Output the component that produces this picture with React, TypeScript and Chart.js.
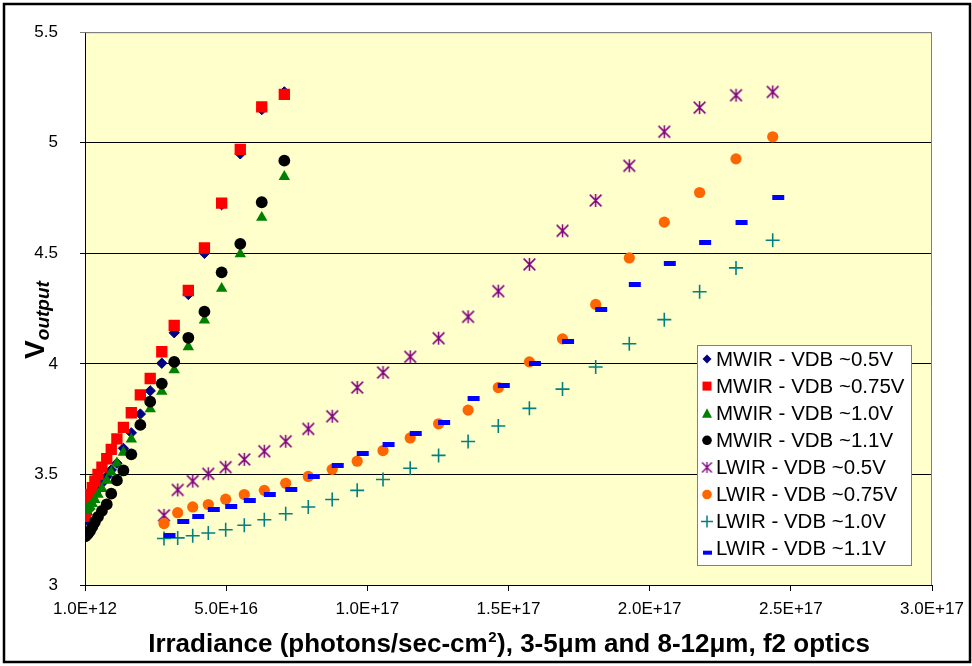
import React, { useEffect, useRef } from "react";
import { Chart, registerables } from "chart.js";

Chart.register(...registerables);

const FONT = "'Liberation Sans', Arial, sans-serif";

// Axis settings
const X_MIN = 1e12;
const X_MAX = 3e17;
const X_STEP = 5e16;
const Y_MIN = 3;
const Y_MAX = 5.5;
const Y_STEP = 0.5;

const seriesNames = [
  "MWIR - VDB ~0.5V",
  "MWIR - VDB ~0.75V",
  "MWIR - VDB ~1.0V",
  "MWIR - VDB ~1.1V",
  "LWIR - VDB ~0.5V",
  "LWIR - VDB ~0.75V",
  "LWIR - VDB ~1.0V",
  "LWIR - VDB ~1.1V",
];

// MWIR irradiance (photons/sec-cm2)
const mwirIrradiance = [
  7.06e16, 6.26e16, 5.5e16, 4.84e16, 4.23e16, 3.66e16, 3.16e16, 2.72e16,
  2.31e16, 1.96e16, 1.64e16, 1.36e16, 1.13e16, 9.3e15, 7.7e15, 6.0e15,
  4.6e15, 3.5e15, 2.6e15, 1.8e15, 1.2e15, 7e14, 3.5e14, 1e14,
];
const mwirVdb05 = [
  5.23, 5.15, 4.95, 4.72, 4.5, 4.314, 4.141, 4.003, 3.878, 3.773, 3.688, 3.618,
  3.551, 3.52, 3.49, 3.46, 3.43, 3.41, 3.385, 3.36, 3.34, 3.32, 3.305, 3.29,
];
const mwirVdb075 = [
  5.219, 5.162, 4.97, 4.727, 4.524, 4.332, 4.174, 4.055, 3.934, 3.86, 3.779,
  3.713, 3.661, 3.613, 3.571, 3.533, 3.5, 3.47, 3.44, 3.41, 3.385, 3.36, 3.335,
  3.31,
];
const mwirVdb10 = [
  4.847, 4.662, 4.497, 4.341, 4.197, 4.077, 3.972, 3.875, 3.796, 3.725, 3.659,
  3.6, 3.551, 3.51, 3.473, 3.436, 3.409, 3.386, 3.368, 3.355, 3.35, 3.345,
  3.34, 3.335,
];
const mwirVdb11 = [
  4.919, 4.731, 4.543, 4.414, 4.236, 4.118, 4.009, 3.911, 3.829, 3.724, 3.591,
  3.518, 3.473, 3.413, 3.365, 3.335, 3.308, 3.285, 3.263, 3.245, 3.235, 3.228,
  3.225, 3.22,
];

// LWIR irradiance (photons/sec-cm2)
const lwirIrradiance = [
  2.798e16, 3.283e16, 3.815e16, 4.367e16, 4.983e16, 5.642e16, 6.351e16,
  7.109e16, 7.909e16, 8.756e16, 9.641e16, 1.0555e17, 1.1518e17, 1.2524e17,
  1.3569e17, 1.4639e17, 1.574e17, 1.6913e17, 1.8088e17, 1.9279e17, 2.0518e17,
  2.1769e17, 2.3058e17, 2.4358e17,
];
const lwirVdb05 = [
  3.315, 3.43, 3.47, 3.503, 3.533, 3.568, 3.605, 3.65, 3.706, 3.763, 3.893,
  3.961, 4.032, 4.116, 4.213, 4.329, 4.45, 4.602, 4.739, 4.896, 5.05, 5.159,
  5.215, 5.23,
];
const lwirVdb075 = [
  3.278, 3.327, 3.353, 3.364, 3.388, 3.409, 3.428, 3.46, 3.491, 3.523, 3.56,
  3.608, 3.665, 3.729, 3.791, 3.893, 4.009, 4.113, 4.269, 4.479, 4.641, 4.775,
  4.927, 5.027,
];
const lwirVdb10 = [
  3.21, 3.213, 3.223, 3.235, 3.25, 3.27, 3.295, 3.322, 3.353, 3.387, 3.428,
  3.477, 3.528, 3.586, 3.649, 3.719, 3.799, 3.886, 3.986, 4.091, 4.2, 4.326,
  4.434, 4.559,
];
const lwirVdb11 = [
  3.225, 3.285, 3.308, 3.341, 3.357, 3.383, 3.411, 3.433, 3.49, 3.539, 3.593,
  3.636, 3.684, 3.736, 3.842, 3.901, 4.003, 4.102, 4.245, 4.359, 4.455, 4.548,
  4.641, 4.752,
];

const xTitleMain = "Irradiance (photons/sec-cm";
const xTitleSup = "2";
const xTitleRest = "), 3-5\u03bcm and 8-12\u03bcm, f2 optics";
const yTitleMain = "V";
const yTitleSub = "output";

const COLORS = ["#000080", "#FF0000", "#008000", "#000000", "#800080", "#FF6600", "#008080", "#0000FF"];

function makeAsterisk(size: number, lw: number, color: string) {
  const c = document.createElement("canvas");
  c.width = size;
  c.height = size;
  const g = c.getContext("2d")!;
  const m = size / 2;
  const r = size / 2 - 1;
  const d = r * 0.9;
  g.strokeStyle = color;
  g.lineWidth = lw;
  g.beginPath();
  g.moveTo(m, m - r);
  g.lineTo(m, m + r);
  g.moveTo(m - d, m - d);
  g.lineTo(m + d, m + d);
  g.moveTo(m + d, m - d);
  g.lineTo(m - d, m + d);
  g.stroke();
  return c;
}

function makeDash(color: string) {
  const c = document.createElement("canvas");
  c.width = 25;
  c.height = 5;
  const g = c.getContext("2d")!;
  g.fillStyle = color;
  g.fillRect(12, 0, 12, 5);
  return c;
}

function drawLegendMarker(ctx: CanvasRenderingContext2D, i: number, x: number, y: number, aster: HTMLCanvasElement) {
  ctx.save();
  ctx.fillStyle = COLORS[i];
  ctx.strokeStyle = COLORS[i];
  ctx.beginPath();
  switch (i) {
    case 0:
      ctx.moveTo(x, y - 4.5);
      ctx.lineTo(x + 4.5, y);
      ctx.lineTo(x, y + 4.5);
      ctx.lineTo(x - 4.5, y);
      ctx.closePath();
      ctx.fill();
      break;
    case 1:
      ctx.fillRect(x - 4.5, y - 4.5, 9, 9);
      break;
    case 2:
      ctx.moveTo(x, y - 5);
      ctx.lineTo(x + 5, y + 4.5);
      ctx.lineTo(x - 5, y + 4.5);
      ctx.closePath();
      ctx.fill();
      break;
    case 3:
    case 5:
      ctx.arc(x, y, 4.8, 0, Math.PI * 2);
      ctx.fill();
      break;
    case 4:
      ctx.drawImage(aster, x - aster.width / 2, y - aster.height / 2);
      break;
    case 6:
      ctx.lineWidth = 1.5;
      ctx.moveTo(x - 6, y);
      ctx.lineTo(x + 6, y);
      ctx.moveTo(x, y - 6);
      ctx.lineTo(x, y + 6);
      ctx.stroke();
      break;
    case 7:
      ctx.fillRect(x - 4, y + 2, 9, 4);
      break;
  }
  ctx.restore();
}

export default function App() {
  const ref = useRef<HTMLCanvasElement>(null);

  useEffect(() => {
    const canvas = ref.current!;
    const asterisk = makeAsterisk(15, 1.5, COLORS[4]);
    const asteriskSmall = makeAsterisk(13, 1.3, COLORS[4]);
    const dash = makeDash(COLORS[7]);

    const toPts = (xs: number[], ys: number[]) => xs.map((x, i) => ({ x, y: ys[i] }));

    const datasets: any[] = [
      { data: toPts(mwirIrradiance, mwirVdb05), pointStyle: "rectRot", pointRadius: 5.2, borderWidth: 1 },
      { data: toPts(mwirIrradiance, mwirVdb075), pointStyle: "rect", pointRadius: 8, borderWidth: 0 },
      { data: toPts(mwirIrradiance, mwirVdb10), pointStyle: "triangle", pointRadius: 6.6, borderWidth: 0 },
      { data: toPts(mwirIrradiance, mwirVdb11), pointStyle: "circle", pointRadius: 5.9, borderWidth: 0 },
      { data: toPts(lwirIrradiance, lwirVdb05), pointStyle: asterisk, pointRadius: 7, borderWidth: 0 },
      { data: toPts(lwirIrradiance, lwirVdb075), pointStyle: "circle", pointRadius: 5.6, borderWidth: 0 },
      { data: toPts(lwirIrradiance, lwirVdb10), pointStyle: "cross", pointRadius: 7, borderWidth: 1.6 },
      { data: toPts(lwirIrradiance, lwirVdb11), pointStyle: dash, pointRadius: 6, borderWidth: 0 },
    ].map((d, i) => ({
      ...d,
      label: seriesNames[i],
      backgroundColor: COLORS[i],
      borderColor: COLORS[i],
      pointBackgroundColor: COLORS[i],
      pointBorderColor: COLORS[i],
      pointBorderWidth: d.borderWidth,
      pointHoverRadius: d.pointRadius,
      showLine: false,
      order: 20 - i,
    }));

    const bgPlugin = {
      id: "bg",
      beforeDraw(chart: any) {
        const { ctx, chartArea: a } = chart;
        ctx.save();
        ctx.fillStyle = "#ffffff";
        ctx.fillRect(0, 0, chart.width, chart.height);
        ctx.fillStyle = "#FFFFCC";
        ctx.fillRect(a.left, a.top, a.right - a.left, a.bottom - a.top);
        ctx.strokeStyle = "#000";
        ctx.lineWidth = 2.5;
        ctx.strokeRect(4, 4, chart.width - 6, chart.height - 8);
        ctx.restore();
      },
      beforeDatasetsDraw(chart: any) {
        const { ctx, chartArea: a } = chart;
        ctx.save();
        ctx.strokeStyle = "#808080";
        ctx.lineWidth = 1;
        ctx.beginPath();
        ctx.moveTo(a.left, a.top + 0.5);
        ctx.lineTo(a.right - 0.5, a.top + 0.5);
        ctx.lineTo(a.right - 0.5, a.bottom);
        ctx.stroke();
        ctx.restore();
      },
      afterDraw(chart: any) {
        const { ctx, chartArea: a } = chart;
        ctx.save();
        // X axis title
        ctx.fillStyle = "#000";
        ctx.textBaseline = "alphabetic";
        ctx.textAlign = "left";
        const fMain = `bold 26px ${FONT}`;
        const fSup = `bold 15px ${FONT}`;
        ctx.font = fMain;
        const w1 = ctx.measureText(xTitleMain).width;
        const w3 = ctx.measureText(xTitleRest).width;
        ctx.font = fSup;
        const w2 = ctx.measureText(xTitleSup).width;
        const total = w1 + w2 + w3;
        let x = (a.left + a.right) / 2 - total / 2;
        const by = 652;
        ctx.font = fMain;
        ctx.fillText(xTitleMain, x, by);
        x += w1;
        ctx.font = fSup;
        ctx.fillText(xTitleSup, x + 0.5, by - 10);
        x += w2 + 1;
        ctx.font = fMain;
        ctx.fillText(xTitleRest, x, by);

        // Y axis title (rotated)
        const fV = `bold 28px ${FONT}`;
        const fSub = `italic bold 19px ${FONT}`;
        ctx.font = fV;
        const wv = ctx.measureText(yTitleMain).width;
        ctx.font = fSub;
        const ws = ctx.measureText(yTitleSub).width;
        ctx.translate(44, 320);
        ctx.rotate(-Math.PI / 2);
        let lx = -(wv + ws) / 2;
        ctx.font = fV;
        ctx.fillText(yTitleMain, lx, 0);
        lx += wv;
        ctx.font = fSub;
        ctx.fillText(yTitleSub, lx, 5);
        ctx.restore();

        // Legend
        ctx.save();
        const lx0 = 697.5, ly0 = 345.5, lw = 214, lh = 220;
        ctx.fillStyle = "#ffffff";
        ctx.fillRect(lx0, ly0, lw, lh);
        ctx.strokeStyle = "#808080";
        ctx.lineWidth = 1;
        ctx.strokeRect(lx0, ly0, lw, lh);
        ctx.font = `20.5px ${FONT}`;
        ctx.fillStyle = "#000";
        ctx.textBaseline = "middle";
        ctx.textAlign = "left";
        for (let i = 0; i < seriesNames.length; i++) {
          const yy = 359 + i * 27.1;
          drawLegendMarker(ctx, i, 707, yy, asteriskSmall);
          ctx.fillText(seriesNames[i], 716, yy + 1);
        }
        ctx.restore();
      },
    };

    const chart = new Chart(canvas, {
      type: "scatter",
      data: { datasets },
      options: {
        animation: false,
        responsive: false,
        devicePixelRatio: 1,
        layout: { padding: { left: 0, top: 30, right: 40, bottom: 0 } },
        plugins: {
          legend: { display: false },
          tooltip: { enabled: false },
          title: { display: false },
        },
        scales: {
          x: {
            type: "linear",
            min: X_MIN,
            max: X_MAX,
            afterFit: (s: any) => {
              s.height = 81;
            },
            border: { color: "#000", width: 1 },
            grid: { drawOnChartArea: false, drawTicks: true, tickLength: 6, color: "#000" },
            ticks: {
              stepSize: X_STEP,
              autoSkip: false,
              maxRotation: 0,
              padding: 8,
              color: "#000",
              font: { family: FONT, size: 17 },
              callback: (v: any) => Number(v).toExponential(1).toUpperCase(),
            },
          },
          y: {
            type: "linear",
            min: Y_MIN,
            max: Y_MAX,
            afterFit: (s: any) => {
              s.width = 85;
            },
            border: { color: "#000", width: 1 },
            grid: {
              drawTicks: true,
              tickLength: 5,
              color: (c: any) => (c.tick && c.tick.value === Y_MAX ? "#808080" : "#000"),
            },
            ticks: {
              stepSize: Y_STEP,
              padding: 22,
              color: "#000",
              font: { family: FONT, size: 17 },
              callback: (v: any) => String(Math.round(Number(v) * 10) / 10),
            },
          },
        },
      } as any,
      plugins: [bgPlugin],
    });
    return () => chart.destroy();
  }, []);

  return (
    <div style={{ position: "absolute", left: 0, top: 0, width: 972, height: 666, background: "#fff" }}>
      <canvas ref={ref} width={972} height={666} style={{ width: 972, height: 666, display: "block" }} />
    </div>
  );
}
